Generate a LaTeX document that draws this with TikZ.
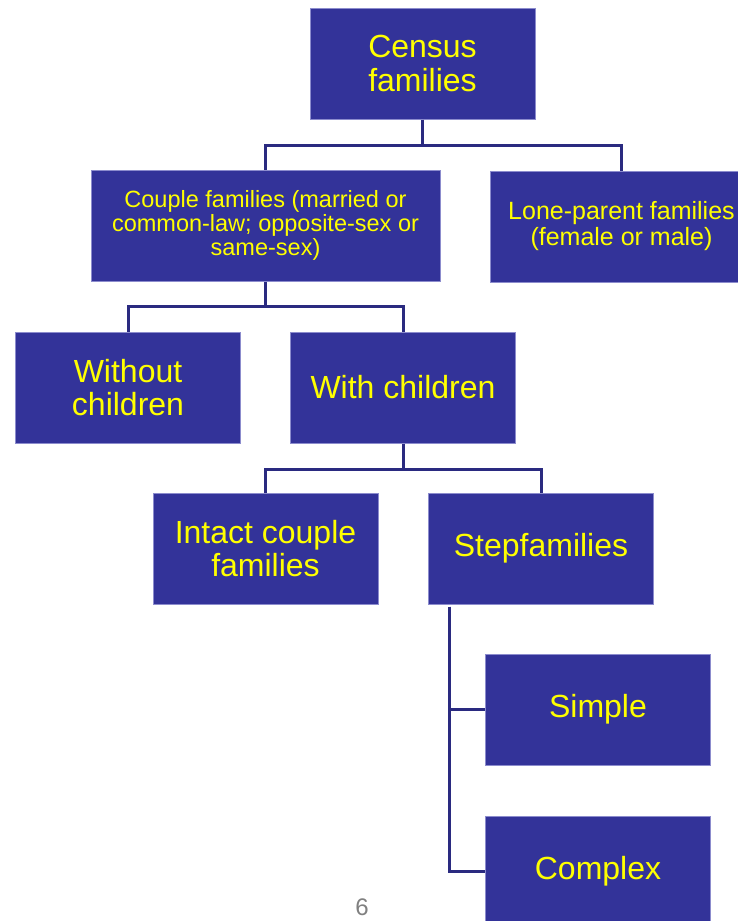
\documentclass[tikz,border=0pt]{standalone}
\usepackage{fontspec}
\setmainfont{Liberation Sans}
\usepackage{tikz}
\definecolor{boxblue}{RGB}{51,51,153}
\definecolor{boxedge}{RGB}{140,140,205}
\definecolor{linkblue}{RGB}{42,42,128}
\definecolor{txtyellow}{RGB}{255,255,0}

\begin{document}
\begin{tikzpicture}[x=1pt,y=-1pt,
        box/.style={draw=boxedge, line width=1pt, fill=boxblue, text=txtyellow, align=center, inner sep=0pt, minimum width=225pt, minimum height=111pt, font=\fontsize{32}{33.5}\selectfont},
        link/.style={draw=linkblue, line width=3pt}]
        \useasboundingbox (0,0) rectangle (738,921);
        \clip (0,0) rectangle (738,921);
        \node[box] (census) at (422.5,63.5){Census\\families};
        \node[box, minimum width=349pt, font=\fontsize{23.5}{24}\selectfont] (couple) at (265.5,225.5){Couple families (married or\\common-law; opposite-sex or\\same-sex)};
        \node[box, minimum width=263pt, font=\fontsize{25}{26}\selectfont] (lone) at (621.5,226.5){Lone-parent families\\(female or male)};
        \node[box] (without) at (128,387.5){Without\\children};
        \node[box] (with) at (403,387.5){With children};
        \node[box] (intact) at (265.5,548.5){Intact couple\\families};
        \node[box] (step) at (541,548.5){Stepfamilies};
        \node[box] (simple) at (598,709.5){Simple};
        \node[box] (complex) at (598,871.5){Complex};
        \node[anchor=base, text=gray, font=\fontsize{24}{26}\selectfont] (page) at (362,915){6};
        \coordinate (split1) at ([yshift=-26pt]census.south);
        \coordinate (split2) at ([yshift=-25pt]couple.south);
        \coordinate (split3) at ([yshift=-26pt]with.south);
        \coordinate (stem) at ([xshift=21pt,yshift=-2pt]step.south west);
        \draw[link](census.south)--(split1)-|(couple.north);
        \draw[link](split1)-|(lone.north);
        \draw[link](couple.south)--(split2)-|(without.north);
        \draw[link](split2)-|(with.north);
        \draw[link](with.south)--(split3)-|(intact.north);
        \draw[link](split3)-|(step.north);
        \draw[link](stem)|-(simple.west);
        \draw[link](stem)|-(complex.west);
    \end{tikzpicture}
\end{document}
